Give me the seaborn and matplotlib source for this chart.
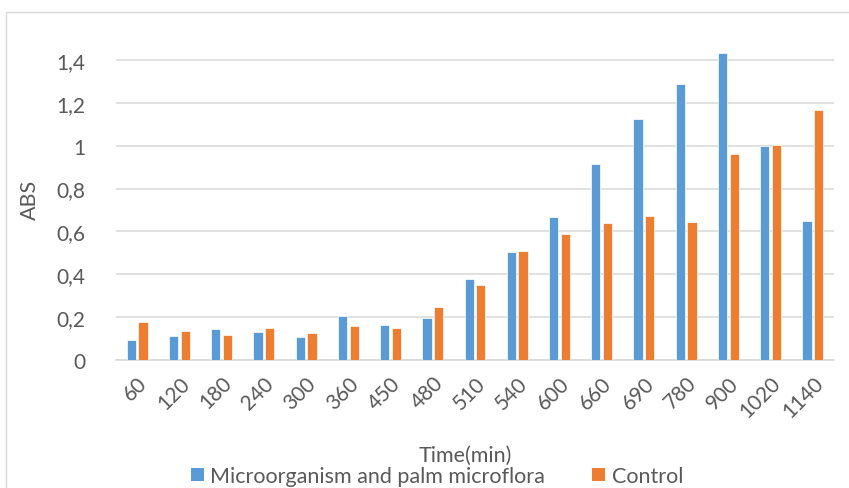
import matplotlib
matplotlib.use("Agg")
import matplotlib.pyplot as plt
import seaborn as sns
import pandas as pd
from matplotlib.patches import Rectangle, Patch

times = ["60", "120", "180", "240", "300", "360", "450", "480", "510", "540",
         "600", "660", "690", "780", "900", "1020", "1140"]
micro = [0.095, 0.112, 0.146, 0.129, 0.109, 0.207, 0.162, 0.195, 0.379, 0.504,
         0.668, 0.912, 1.124, 1.286, 1.434, 0.996, 0.648]
control = [0.176, 0.134, 0.118, 0.151, 0.128, 0.160, 0.148, 0.249, 0.351, 0.510,
           0.590, 0.638, 0.671, 0.643, 0.963, 1.002, 1.166]
series_names = ["Microorganism and palm microflora", "Control"]
colors = ["#5B9BD5", "#ED7D31"]
y_ticks = [0, 0.2, 0.4, 0.6, 0.8, 1.0, 1.2, 1.4]
y_tick_labels = ["0", "0,2", "0,4", "0,6", "0,8", "1", "1,2", "1,4"]

df = pd.DataFrame({
    "Time": times * 2,
    "ABS": micro + control,
    "Series": [series_names[0]] * len(times) + [series_names[1]] * len(times),
})

sns.set_style("white")
plt.rcParams["font.family"] = ["Lato", "DejaVu Sans"]
text_color = "#595959"

fig = plt.figure(figsize=(8.49, 4.89), dpi=100)
ax = fig.add_axes([116 / 849, 1 - 361 / 489, 718 / 849, 343 / 489])

sns.barplot(data=df, x="Time", y="ABS", hue="Series", order=times,
            hue_order=series_names, palette=colors, saturation=1,
            width=0.554, gap=0.21,
            edgecolor="white", linewidth=0.5, ax=ax, legend=False, zorder=3)

ax.set_ylim(0, 1.6)
ax.set_xlim(-0.5, len(times) - 0.5)
ax.set_yticks(y_ticks)
ax.set_yticklabels(y_tick_labels)
ax.yaxis.grid(True, color="#D9D9D9", linewidth=1.1, zorder=0)
ax.set_axisbelow(True)
for s in ["top", "right", "left"]:
    ax.spines[s].set_visible(False)
ax.spines["bottom"].set_color("#D9D9D9")
ax.spines["bottom"].set_linewidth(1.1)
ax.tick_params(axis="both", length=0, colors=text_color, labelsize=15)
ax.tick_params(axis="y", pad=22)
ax.tick_params(axis="x", pad=9)
for lbl in ax.get_xticklabels():
    lbl.set_rotation(45)
    lbl.set_ha("right")
    lbl.set_rotation_mode("anchor")

ax.set_xlabel("Time(min)", fontsize=15.5, color=text_color)
ax.set_ylabel("ABS", fontsize=15.5, color=text_color)
ax.xaxis.set_label_coords((465 - 116) / 718, (361 - 446) / 343)
ax.yaxis.set_label_coords(-0.106, 0.47)

handles = [Patch(facecolor=c, edgecolor="none") for c in colors]
fig.legend(handles, series_names, loc="center", bbox_to_anchor=(437 / 849, 1 - 477 / 489),
           ncol=2, frameon=False, fontsize=15.5, labelcolor=text_color,
           handlelength=0.6, handleheight=0.6, handletextpad=0.3, columnspacing=2.2,
           borderpad=0.1)

fig.patches.append(Rectangle((6 / 849, -0.05), 1.2, 1 - 13 / 489 + 0.05,
                             transform=fig.transFigure, fill=False,
                             edgecolor="#D9D9D9", linewidth=1.0))

fig.savefig("out.png", dpi=100, facecolor="white")
